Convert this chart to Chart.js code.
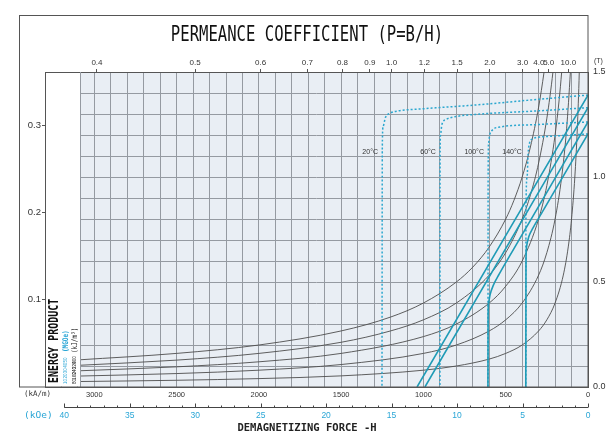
<!DOCTYPE html>
<html>
<head>
<meta charset="utf-8">
<title>Permeance coefficient</title>
<script src="https://cdn.jsdelivr.net/npm/chart.js@4/dist/chart.umd.min.js"></script>
<style>
  html, body { margin: 0; padding: 0; background: #fff; }
</style>
</head>
<body>
<canvas id="permChart" width="610" height="436"></canvas>
<script>
const titleText = 'PERMEANCE COEFFICIENT (P=B/H)';
const axisTitle = 'DEMAGNETIZING FORCE -H';

// tick labels
const permeanceTicks = [0.4, 0.5, 0.6, 0.7, 0.8, 0.9, 1.0, 1.2, 1.5, 2.0, 3.0, 4.0, 5.0, 10.0];
const leftTicks = [0.1, 0.2, 0.3];
const kOeTicks = [0, 5, 10, 15, 20, 25, 30, 35, 40];

// energy product curves, [H kA/m, B T]
const energyKJ = [80, 160, 240, 320, 400];
const energyMGOe = [10, 20, 30, 40, 50];
const bh80 = [[50, 1.6], [53, 1.5], [65, 1.23], [80, 1.0], [100, 0.8], [120, 0.667], [150, 0.533], [200, 0.4], [250, 0.32], [300, 0.267], [400, 0.2], [500, 0.16], [600, 0.133], [800, 0.1], [1000, 0.08], [1500, 0.053], [2000, 0.04], [2500, 0.032], [3100, 0.026]];
const bh160 = [[100, 1.6], [107, 1.5], [130, 1.23], [160, 1.0], [200, 0.8], [250, 0.64], [300, 0.533], [400, 0.4], [500, 0.32], [600, 0.267], [800, 0.2], [1000, 0.16], [1500, 0.107], [2000, 0.08], [2500, 0.064], [3100, 0.052]];
const bh240 = [[150, 1.6], [160, 1.5], [175, 1.37], [200, 1.2], [250, 0.96], [300, 0.8], [400, 0.6], [500, 0.48], [600, 0.4], [800, 0.3], [1000, 0.24], [1500, 0.16], [2000, 0.12], [2500, 0.096], [3100, 0.077]];
const bh320 = [[200, 1.6], [213, 1.5], [250, 1.28], [300, 1.067], [350, 0.914], [400, 0.8], [500, 0.64], [600, 0.533], [800, 0.4], [1000, 0.32], [1200, 0.267], [1500, 0.213], [2000, 0.16], [2500, 0.128], [3100, 0.103]];
const bh400 = [[250, 1.6], [267, 1.5], [300, 1.333], [350, 1.143], [400, 1.0], [450, 0.889], [500, 0.8], [600, 0.667], [700, 0.571], [800, 0.5], [1000, 0.4], [1200, 0.333], [1500, 0.267], [2000, 0.2], [2500, 0.16], [3100, 0.129]];

// demagnetization curves per temperature
const temps = ['20°C', '60°C', '100°C', '140°C'];
// intrinsic (dotted)
const j20 = [[0, 1.39], [300, 1.37], [650, 1.345], [1000, 1.325], [1150, 1.315], [1200, 1.305], [1230, 1.285], [1245, 1.24], [1250, 1.15], [1252, 0]];
const j60 = [[0, 1.33], [300, 1.315], [650, 1.3], [800, 1.288], [860, 1.275], [888, 1.25], [896, 1.2], [899, 1.1], [900, 0]];
const j100 = [[0, 1.262], [300, 1.25], [535, 1.238], [575, 1.228], [596, 1.205], [604, 1.16], [607, 1.0], [608, 0]];
const j140 = [[0, 1.205], [200, 1.195], [292, 1.19], [335, 1.182], [356, 1.16], [364, 1.11], [370, 1.0], [377, 0.85], [378, 0]];
// normal (solid)
const b20 = [[0, 1.39], [1039, 0]];
const b60 = [[0, 1.33], [991, 0]];
const b100 = [[0, 1.262], [450, 0.659], [540, 0.537], [575, 0.485], [595, 0.44], [604, 0.4], [607, 0.34], [608, 0]];
const b140 = [[0, 1.205], [280, 0.83], [335, 0.756], [360, 0.715], [372, 0.675], [376, 0.63], [377, 0.55], [378, 0]];

const MU0 = 4e-7 * Math.PI;
const KA_PER_KOE = 79.577;
const H_MAX = 3300;   // kA/m at left edge of frame
const H_GRID = 3087;  // grid starts here
const B_MAX = 1.5;

const frameColor = '#555';
const gridColor = '#959aa1';
const plotBg = '#e9eef4';
const teal = '#1f9bb6';
const dotted = '#2ba7cf';
const cyanText = '#2aa6d6';
const narrow = "'Liberation Sans Narrow', 'Liberation Sans', sans-serif";
const mono = "'DejaVu Sans Mono', monospace";

const toXY = arr => arr.map(p => ({ x: p[0], y: p[1] }));

const energyCurves = [bh80, bh160, bh240, bh320, bh400];
const jCurves = [j20, j60, j100, j140];
const bCurves = [b20, b60, b100, b140];

const common = { pointRadius: 0, fill: false, cubicInterpolationMode: 'monotone', xAxisID: 'x', yAxisID: 'y' };
const datasets = [];
bCurves.forEach((c, i) => datasets.push({ ...common, label: 'B ' + temps[i], data: toXY(c), borderColor: teal, borderWidth: 1.6, order: 0 }));
jCurves.forEach((c, i) => datasets.push({ ...common, label: 'J ' + temps[i], data: toXY(c), borderColor: dotted, borderWidth: 1.5, borderDash: [2, 2], order: 1 }));
energyCurves.forEach((c, i) => datasets.push({ ...common, label: energyKJ[i] + ' kJ/m3', data: toXY(c), borderColor: '#4d4d4d', borderWidth: 0.9, order: 2 }));

function vText(ctx, text, x, y, font, color, align, stretch) {
    ctx.save();
    ctx.translate(x, y);
    ctx.rotate(-Math.PI / 2);
    ctx.scale(1, stretch || 1);
    ctx.font = font;
    ctx.fillStyle = color;
    ctx.textAlign = align || 'left';
    ctx.textBaseline = 'middle';
    ctx.fillText(text, 0, 0);
    ctx.restore();
}

const paperPlugin = {
    id: 'paper',
    beforeDraw(chart) {
        const { ctx, chartArea: a } = chart;
        const gx = chart.scales.x.getPixelForValue(H_GRID);
        ctx.save();
        ctx.fillStyle = '#fff';
        ctx.fillRect(0, 0, chart.width, chart.height);
        ctx.fillStyle = plotBg;
        ctx.fillRect(gx, a.top, a.right - gx, a.bottom - a.top);
        ctx.restore();
    },
    afterDatasetsDraw(chart) {
        const { ctx, chartArea: a } = chart;
        const xs = chart.scales.x, ys = chart.scales.y;
        const gx = Math.round(xs.getPixelForValue(H_GRID)) + 0.5;
        ctx.save();
        // white label panel left of the grid
        ctx.fillStyle = '#fff';
        ctx.fillRect(a.left + 1, a.top + 1, gx - a.left - 1, a.bottom - a.top - 1.5);
        ctx.strokeStyle = gridColor;
        ctx.lineWidth = 1;
        ctx.beginPath();
        ctx.moveTo(gx, a.top);
        ctx.lineTo(gx, a.bottom);
        ctx.stroke();

        vText(ctx, 'ENERGY PRODUCT', 54, 383, 'bold 10px ' + mono, '#111', 'left', 1.35);
        vText(ctx, '(MGOe)', 65.5, 352, 'bold 6px ' + mono, cyanText, 'left', 1.3);
        vText(ctx, '(kJ/m³)', 75, 353, '6px ' + mono, '#222', 'left', 1.3);
        energyCurves.forEach((c, i) => {
            const y = ys.getPixelForValue(c[c.length - 1][1]);
            vText(ctx, String(energyMGOe[i]), 65.5, y, '4.5px ' + narrow, cyanText, 'center');
            vText(ctx, String(energyKJ[i]), 75, y, '4.5px ' + narrow, '#222', 'center');
        });

        // temperature tags next to the dotted curves
        ctx.font = '7px ' + narrow;
        ctx.fillStyle = '#333';
        ctx.textAlign = 'right';
        ctx.textBaseline = 'middle';
        jCurves.forEach((c, i) => {
            ctx.fillText(temps[i], xs.getPixelForValue(c[c.length - 1][0]) - 4, ys.getPixelForValue(1.12));
        });
        ctx.restore();
    },
    afterDraw(chart) {
        const { ctx, chartArea: a } = chart;
        const oe = chart.scales.xOe;
        ctx.save();
        // outer frame
        ctx.strokeStyle = frameColor;
        ctx.lineWidth = 1;
        ctx.strokeRect(19.5, 15.5, a.right - 19.5, a.bottom - 15.5);

        // title
        ctx.save();
        ctx.translate(307, 35);
        ctx.scale(1, 1.4);
        ctx.font = '15.6px ' + mono;
        ctx.fillStyle = '#111';
        ctx.textAlign = 'center';
        ctx.textBaseline = 'middle';
        ctx.fillText(titleText, 0, 0);
        ctx.restore();

        // kOe axis line with ticks pointing up
        const yLine = oe.top + 6.5;
        ctx.strokeStyle = '#444';
        ctx.beginPath();
        ctx.moveTo(oe.getPixelForValue(40), yLine);
        ctx.lineTo(oe.getPixelForValue(0), yLine);
        for (let v = 0; v <= 40; v++) {
            const x = Math.round(oe.getPixelForValue(v)) + 0.5;
            ctx.moveTo(x, yLine);
            ctx.lineTo(x, yLine - (v % 5 === 0 ? 4 : 2));
        }
        ctx.stroke();

        // unit labels
        ctx.textBaseline = 'middle';
        ctx.textAlign = 'left';
        ctx.fillStyle = '#333';
        ctx.font = '7.5px ' + mono;
        ctx.fillText('(kA/m)', 24, 394);
        ctx.font = '7px ' + narrow;
        ctx.fillText('(T)', 594, 61);
        ctx.fillStyle = cyanText;
        ctx.font = '9.5px ' + mono;
        ctx.fillText('(kOe)', 24, 416);
        ctx.restore();
    }
};

new Chart(document.getElementById('permChart'), {
    type: 'line',
    data: { datasets: datasets },
    options: {
        responsive: false,
        animation: false,
        devicePixelRatio: 1,
        layout: { padding: 0 },
        font: { family: "'Liberation Sans', sans-serif" },
        plugins: { legend: { display: false }, tooltip: { enabled: false }, title: { display: false } },
        scales: {
            x: {
                type: 'linear', position: 'bottom', reverse: true, min: 0, max: H_MAX, weight: 0,
                afterBuildTicks: s => { s.ticks = []; for (let v = 0; v <= H_MAX; v += 100) s.ticks.push({ value: v }); },
                afterFit: s => { s.height = 14; },
                grid: { color: gridColor, lineWidth: 1, drawTicks: false },
                border: { display: true, color: frameColor },
                ticks: {
                    autoSkip: false, maxRotation: 0, padding: 3.5, color: '#333',
                    font: { family: narrow, size: 7.5 },
                    callback: v => (v % 500 === 0 && v <= 3000) ? String(v) : ''
                }
            },
            xOe: {
                type: 'linear', position: 'bottom', reverse: true, min: 0, max: H_MAX / KA_PER_KOE, weight: 1,
                afterBuildTicks: s => { s.ticks = kOeTicks.map(v => ({ value: v })); },
                afterFit: s => { s.height = 35; },
                grid: { display: false, drawTicks: false },
                border: { display: false },
                ticks: { autoSkip: false, maxRotation: 0, padding: 10, color: cyanText, font: { family: narrow, size: 8.5 } },
                title: {
                    display: true, text: axisTitle + '   ', color: '#222',
                    font: { family: mono, size: 10.5, weight: 'bold' }, padding: { top: 0, bottom: 1 }
                }
            },
            xTop: {
                type: 'linear', position: 'top', reverse: true, min: 0, max: H_MAX,
                afterBuildTicks: s => { s.ticks = permeanceTicks.map(p => ({ value: B_MAX / (MU0 * p) / 1000 })); },
                afterFit: s => { s.height = 72; },
                grid: { drawOnChartArea: false, tickLength: 3, color: frameColor },
                border: { display: true, color: frameColor },
                ticks: {
                    autoSkip: false, maxRotation: 0, padding: 1, color: '#333',
                    font: { family: narrow, size: 8 },
                    callback: (v, i) => permeanceTicks[i].toFixed(1)
                }
            },
            y: {
                type: 'linear', position: 'right', min: 0, max: B_MAX,
                afterBuildTicks: s => { s.ticks = []; for (let i = 0; i <= 15; i++) s.ticks.push({ value: i / 10 }); },
                afterFit: s => { s.width = 22; },
                grid: { color: gridColor, lineWidth: 1, drawTicks: false },
                border: { display: true, color: frameColor },
                ticks: {
                    autoSkip: false, padding: 5, color: '#333',
                    font: { family: narrow, size: 9 },
                    callback: v => (Math.round(v * 10) % 5 === 0) ? v.toFixed(1) : ''
                }
            },
            yL: {
                type: 'linear', position: 'left', min: 0, max: 0.3612,
                afterBuildTicks: s => { s.ticks = leftTicks.map(v => ({ value: v })); },
                afterFit: s => { s.width = 45; },
                grid: { drawOnChartArea: false, tickLength: 3, color: frameColor },
                border: { display: true, color: frameColor },
                ticks: { padding: 1, color: '#333', font: { family: narrow, size: 9.5 }, callback: v => v.toFixed(1) }
            }
        }
    },
    plugins: [paperPlugin]
});
</script>
</body>
</html>
